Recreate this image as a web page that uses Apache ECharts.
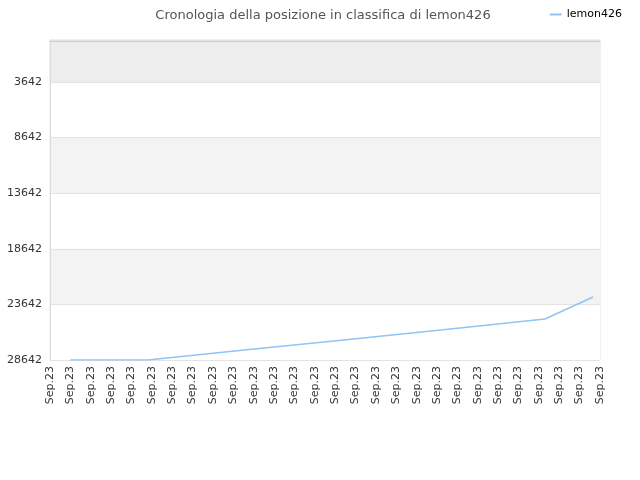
<!DOCTYPE html>
<html>
<head>
<meta charset="utf-8">
<script src="https://cdn.jsdelivr.net/npm/echarts@6/dist/echarts.min.js"></script>
<style>html,body{margin:0;padding:0;background:#fff}#c{width:640px;height:480px}</style>
</head>
<body>
<div id="c"></div>
<script>
var xLabels = ['Sep.23','Sep.23','Sep.23','Sep.23','Sep.23','Sep.23','Sep.23','Sep.23','Sep.23','Sep.23','Sep.23','Sep.23','Sep.23','Sep.23','Sep.23','Sep.23','Sep.23','Sep.23','Sep.23','Sep.23','Sep.23','Sep.23','Sep.23','Sep.23','Sep.23','Sep.23','Sep.23','Sep.23'];
var seriesX = [1, 4.8, 9.3, 14.3, 19.3, 24.3, 26.66];
var seriesY = [28642, 28642, 27790, 26860, 25930, 24955, 22976];
var yTicks = [3642, 8642, 13642, 18642, 23642, 28642];
var yMin = -135, yMax = 28642;

var data = seriesX.map(function (x, i) { return [x, seriesY[i]]; });
var chart = echarts.init(document.getElementById('c'), null, {renderer: 'canvas'});
chart.setOption({
  animation: false,
  backgroundColor: '#fff',
  title: {
    text: 'Cronologia della posizione in classifica di lemon426',
    left: 318, top: 4, textAlign: 'center',
    textStyle: {fontFamily: 'DejaVu Sans', fontSize: 13, fontWeight: 'normal', color: '#555'}
  },
  legend: {
    right: 13, top: 4, itemWidth: 12, itemHeight: 2, itemGap: 6,
    icon: 'rect',
    textStyle: {fontFamily: 'DejaVu Sans', fontSize: 11, color: '#000'},
    data: ['lemon426']
  },
  grid: {left: 50, right: 40, top: 40, bottom: 120, show: true, borderColor: '#e3e3e3', borderWidth: 1, backgroundColor: 'transparent'},
  xAxis: {
    type: 'value', min: 0, max: xLabels.length - 1, interval: 1,
    axisLine: {show: true, lineStyle: {color: '#ccc'}},
    axisTick: {show: false},
    splitLine: {show: false},
    axisLabel: {
      rotate: 90, fontFamily: 'DejaVu Sans', fontSize: 11, color: '#333', margin: 6,
      formatter: function (v) { return xLabels[Math.round(v)] || ''; }
    }
  },
  yAxis: {
    type: 'value', inverse: true, min: yMin, max: yMax,
    axisLine: {show: true, lineStyle: {color: '#ddd'}},
    axisTick: {show: false, customValues: [yMin].concat(yTicks)},
    axisLabel: {customValues: yTicks, fontFamily: 'DejaVu Sans', fontSize: 11, color: '#333', margin: 8,
      formatter: function (v) { return String(v); }},
    splitLine: {show: true, lineStyle: {color: '#e3e3e3'}},
    splitArea: {show: true, areaStyle: {color: ['#ededed', '#ffffff', '#f3f3f3', '#ffffff', '#f3f3f3', '#ffffff']}}
  },
  series: [{
    name: 'lemon426', type: 'line', data: data,
    showSymbol: false, symbol: 'none',
    lineStyle: {color: '#90c4f4', width: 1.5},
    itemStyle: {color: '#90c4f4'}
  }]
});
</script>
</body>
</html>
